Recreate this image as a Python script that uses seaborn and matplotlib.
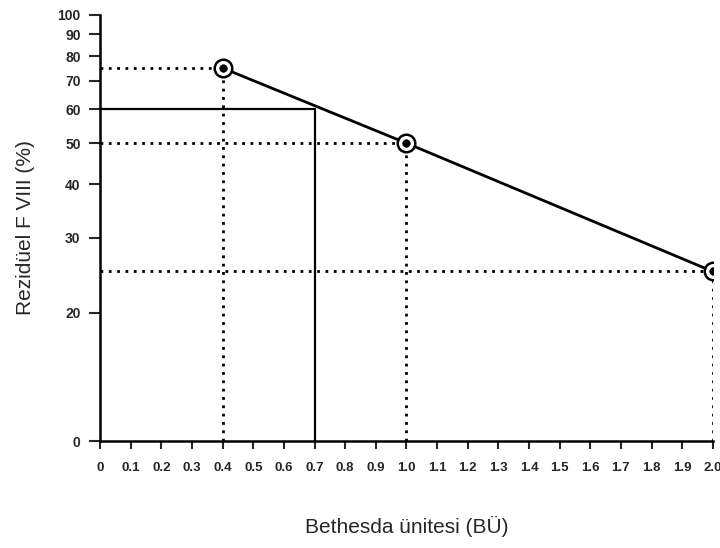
import numpy as np
import pandas as pd
import seaborn as sns
import matplotlib.pyplot as plt
from matplotlib.ticker import FixedLocator, NullLocator

# measured points (Bethesda units vs residual F VIII %)
bu_values = [0.4, 1.0, 2.0]
residual_pct = [75, 50, 25]

# read-off at 60 % residual activity
cut_bu = 0.7
cut_pct = 60

x_ticks = [round(v * 0.1, 1) for v in range(0, 21)]
x_labels = ['0'] + [f'{v:.1f}' for v in x_ticks[1:]]
y_ticks = [10, 20, 30, 40, 50, 60, 70, 80, 90, 100]
y_labels = ['0', '20', '30', '40', '50', '60', '70', '80', '90', '100']

sns.set_theme(style='white')
plt.rcParams['font.family'] = ['Liberation Sans', 'DejaVu Sans']

df = pd.DataFrame({'bu': bu_values, 'pct': residual_pct})

fig = plt.figure(figsize=(7.2, 5.48), dpi=100)
ax = fig.add_axes([0.139, 0.195, 0.851, 0.778])

# dotted guide lines from each point to the axes
for x, y in zip(bu_values, residual_pct):
    ax.plot([0, x], [y, y], color='black', linestyle=(0, (1, 2)), linewidth=2)
    ax.plot([x, x], [10, y], color='black', linestyle=(0, (1, 2)), linewidth=2)

# solid read-off lines
ax.plot([0, cut_bu], [cut_pct, cut_pct], color='black', linewidth=1.6)
ax.plot([cut_bu, cut_bu], [10, cut_pct], color='black', linewidth=1.6)

sns.lineplot(data=df, x='bu', y='pct', ax=ax, color='black', linewidth=2)
sns.scatterplot(data=df, x='bu', y='pct', ax=ax, s=160, facecolor='white',
                edgecolor='black', linewidth=1.8, zorder=5)
sns.scatterplot(data=df, x='bu', y='pct', ax=ax, s=30, color='black',
                edgecolor='black', zorder=6)

ax.set_yscale('log')
ax.set_xlim(0, 2.0)
ax.set_ylim(10, 100)
ax.yaxis.set_major_locator(FixedLocator(y_ticks))
ax.yaxis.set_minor_locator(NullLocator())
ax.set_yticklabels(y_labels)
ax.set_xticks(x_ticks)
ax.set_xticklabels(x_labels)

for side in ['top', 'right']:
    ax.spines[side].set_visible(False)
for side in ['left', 'bottom']:
    ax.spines[side].set_linewidth(1.8)
    ax.spines[side].set_color('black')

ax.tick_params(axis='y', direction='out', length=8, width=1.5, labelsize=10,
               left=True, pad=6)
ax.tick_params(axis='x', direction='out', length=6, width=1.5, labelsize=9.5,
               bottom=True, pad=9)
for lbl in ax.get_xticklabels() + ax.get_yticklabels():
    lbl.set_fontweight('bold')

ax.set_xlabel('Bethesda ünitesi (BÜ)', fontsize=15, labelpad=30)
ax.set_ylabel('Rezidüel F VIII (%)', fontsize=15, labelpad=16)

fig.savefig('out.png', dpi=100)
